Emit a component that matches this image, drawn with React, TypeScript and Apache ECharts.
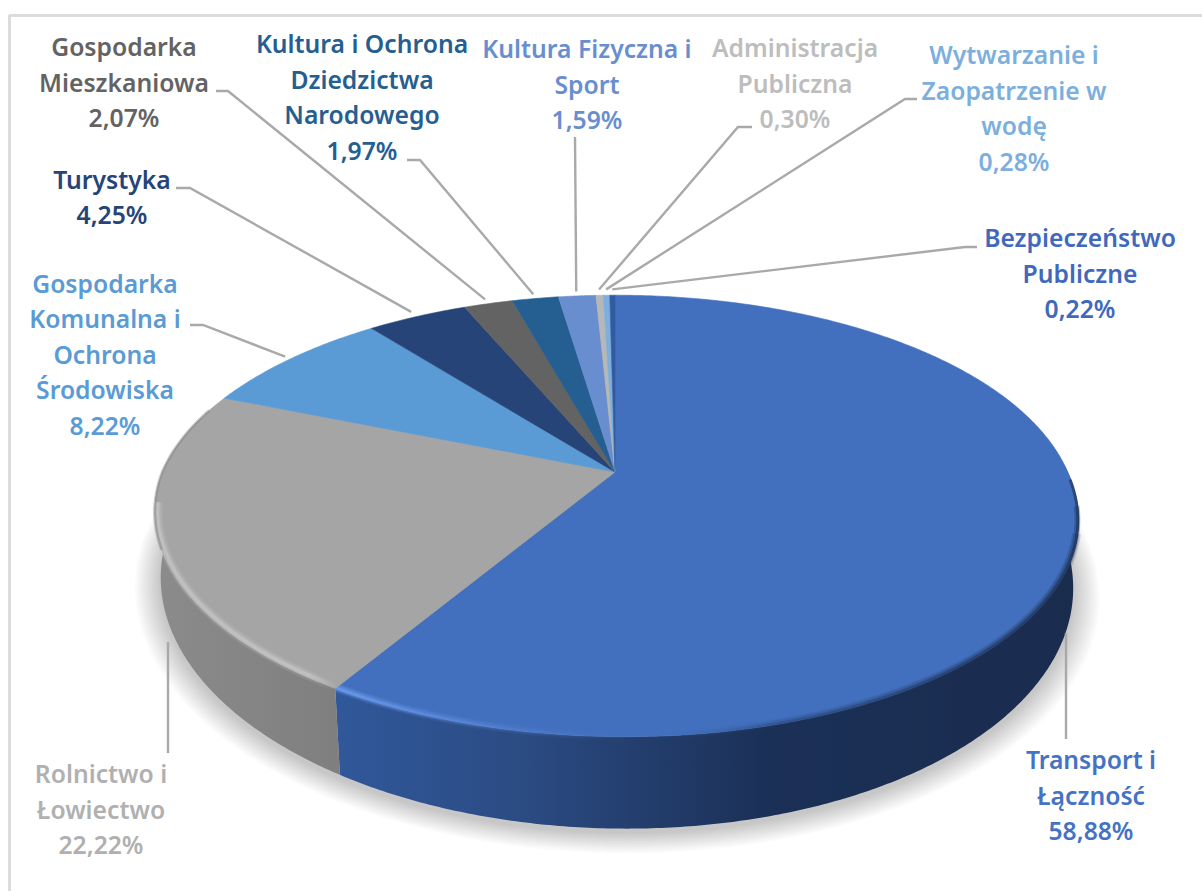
import React, { useEffect, useRef } from "react";
import * as echarts from "echarts";

// --- data, clockwise from 12 o'clock ---
const sliceNames = [
  "Transport i\nŁączność",
  "Rolnictwo i\nŁowiectwo",
  "Gospodarka\nKomunalna i\nOchrona\nŚrodowiska",
  "Turystyka",
  "Gospodarka\nMieszkaniowa",
  "Kultura i Ochrona\nDziedzictwa\nNarodowego",
  "Kultura Fizyczna i\nSport",
  "Administracja\nPubliczna",
  "Wytwarzanie i\nZaopatrzenie w\nwodę",
  "Bezpieczeństwo\nPubliczne",
];
const sliceValues = [58.88, 22.22, 8.22, 4.25, 2.07, 1.97, 1.59, 0.3, 0.28, 0.22];
const sliceColors = ["#4270be", "#a5a5a5", "#5b9bd5", "#264478", "#636363", "#255e91", "#698ed0", "#b7b7b7", "#7cafdd", "#335aa1"];
const labelColors = ["#4472c4", "#b0b0b0", "#5b9bd5", "#264478", "#636363", "#255e91", "#698ed0", "#bdbdbd", "#7cafdd", "#4069bd"];

// --- layout ---
const labelCenterX = [1091, 101, 105, 112, 124, 362, 587, 795, 1014, 1080];
const labelCenterY = [795, 809, 354, 197, 82, 97, 84, 83, 108, 273];
const leaderElbows = [
  [[1066, 739], [1066, 633]],
  [[168, 753], [168, 642]],
  [[190, 325], [203, 325]],
  [[176, 188], [190, 188]],
  [[216, 91], [228, 91]],
  [[407, 160], [420, 160]],
  [[575, 137], [575, 137]],
  [[752, 127], [738, 127]],
  [[917, 99], [905, 99]],
  [[977, 247], [965, 247]],
];
const leaderReach = [0, 0, 1.02, 1.035, 1.03, 1.03, 1.03, 1.04, 1.04, 1.04];

const START_DEG = 0;
const PERSPECTIVE = 0.199;
const SHEAR = 0.04;
const TOP = { cx: 615, cy: 472, a: 452.7, b: 212 };
const BOTTOM = { cx: 615, cy: 534, a: 447, b: 236 };

const total = sliceValues.reduce((s, v) => s + v, 0);
const toRad = (d: number) => (d * Math.PI) / 180;
const bounds = (i: number) => {
  const before = sliceValues.slice(0, i).reduce((s, v) => s + v, 0);
  return [START_DEG + (before / total) * 360, START_DEG + ((before + sliceValues[i]) / total) * 360];
};
const project = (disc: typeof TOP, deg: number, r = 1): [number, number] => {
  const s = Math.sin(toRad(deg)) * r;
  const c = Math.cos(toRad(deg)) * r;
  const d = 1 + PERSPECTIVE * c;
  const dy = -(disc.b * c) / d;
  return [disc.cx + (disc.a * s) / d + SHEAR * Math.max(0, dy), disc.cy + dy];
};
const arc = (disc: typeof TOP, from: number, to: number, r = 1) => {
  const n = Math.max(2, Math.ceil(Math.abs(to - from) * 2));
  const pts: [number, number][] = [];
  for (let k = 0; k <= n; k++) pts.push(project(disc, from + ((to - from) * k) / n, r));
  return pts;
};
const grad = (stops: [number, string][]) =>
  new echarts.graphic.LinearGradient(0, 0, 1, 0, stops.map(([offset, color]) => ({ offset, color })));

const renderShadow = (params: any) => {
  if (params.dataIndex !== 0) return { type: "group", children: [] };
  const children: any[] = [];
  const disc = { ...BOTTOM, cy: BOTTOM.cy + 4 };
  for (let k = 0; k < 14; k++) {
    children.push({
      type: "polygon",
      shape: { points: arc(disc, 0, 360, 1.055 - k * 0.004) },
      style: { fill: "rgba(0,0,0,0.014)" },
      silent: true,
    });
  }
  return { type: "group", children };
};

const renderWall = (params: any) => {
  const i = params.dataIndex;
  if (i > 1) return { type: "group", children: [] };
  const [from, to] = bounds(i);
  const f = i === 0 ? Math.max(from, 88) : from;
  const t = i === 1 ? Math.min(to, 285) : to;
  const fill =
    i === 0
      ? grad([
          [0, "#31589a"],
          [0.25, "#2b4b83"],
          [0.58, "#1b3057"],
          [1, "#1a2c4e"],
        ])
      : grad([
          [0, "#8b8b8b"],
          [1, "#7f7f7f"],
        ]);
  return {
    type: "polygon",
    shape: { points: [...arc(TOP, f, t), ...arc(BOTTOM, t, f)] },
    style: { fill, stroke: "none" },
    silent: true,
  };
};

const strokeLayer = (points: [number, number][], lineWidth: number, stroke: any) => ({
  type: "polyline",
  shape: { points },
  style: { fill: "none", lineWidth, stroke },
  silent: true,
});

const blueEdge = (light: number, dark: number) =>
  grad([
    [0, `rgba(112,160,244,${light})`],
    [0.22, `rgba(96,142,226,${light * 0.45})`],
    [0.42, "rgba(66,112,190,0)"],
    [0.6, `rgba(28,50,92,${dark * 0.5})`],
    [1, `rgba(26,44,78,${dark})`],
  ]);
const grayEdge = (alpha: number) =>
  grad([
    [0, `rgba(205,205,205,${alpha})`],
    [0.85, `rgba(205,205,205,${alpha})`],
    [1, "rgba(205,205,205,0)"],
  ]);

const renderTop = (params: any) => {
  const i = params.dataIndex;
  const [from, to] = bounds(i);
  const color = sliceColors[i];
  const children: any[] = [
    {
      type: "polygon",
      shape: { points: [[TOP.cx, TOP.cy], ...arc(TOP, from, to)] },
      style: { fill: color, stroke: color, lineWidth: 0.6 },
      silent: true,
    },
  ];
  if (i === 0) {
    children.push(
      strokeLayer(arc(TOP, 106, to, 0.997), 9, blueEdge(0.2, 0.18)),
      strokeLayer(arc(TOP, 99, to, 0.997), 6, blueEdge(0.35, 0.3)),
      strokeLayer(arc(TOP, 92, to, 0.998), 3, blueEdge(0.6, 0.6))
    );
  }
  if (i === 1) {
    const edge = arc(TOP, from, 262, 0.994);
    children.push(
      strokeLayer(edge, 10, grayEdge(0.16)),
      strokeLayer(edge, 6, grayEdge(0.28)),
      strokeLayer(edge, 3, grayEdge(0.45)),
      strokeLayer(arc(TOP, 250, 288, 1), 3, "rgba(128,128,128,0.4)")
    );
  }
  return { type: "group", children };
};

const renderLabel = (params: any, api: any) => {
  const i = params.dataIndex;
  const [from, to] = bounds(i);
  const value = api.value(0) as number;
  const elbow = leaderElbows[i];
  const end = leaderReach[i] ? project(TOP, (from + to) / 2, leaderReach[i]) : null;
  const points = end ? [...elbow, end] : elbow;
  return {
    type: "group",
    children: [
      {
        type: "polyline",
        shape: { points },
        style: { fill: "none", stroke: "#a9a9a9", lineWidth: 2.4 },
        silent: true,
      },
      {
        type: "text",
        silent: true,
        style: {
          x: labelCenterX[i],
          y: labelCenterY[i],
          text: `${sliceNames[i]}\n${value.toFixed(2).replace(".", ",")}%`,
          align: "center",
          verticalAlign: "middle",
          fill: labelColors[i],
          fontFamily: "'Noto Sans', sans-serif",
          fontWeight: 600,
          fontSize: 24.7,
          lineHeight: 35.5,
        },
      },
    ],
  };
};

export default function App() {
  const ref = useRef<HTMLDivElement>(null);
  useEffect(() => {
    const chart = echarts.init(ref.current!, undefined, { renderer: "svg" });
    const layer = (name: string, renderItem: any, z: number) => ({
      type: "custom",
      name,
      coordinateSystem: "none",
      data: sliceValues,
      renderItem,
      silent: true,
      z,
    });
    chart.setOption({
      animation: false,
      backgroundColor: "#ffffff",
      graphic: [
        { type: "line", silent: true, shape: { x1: 9, y1: 15.5, x2: 1202, y2: 15.5 }, style: { stroke: "#dcdcdc", lineWidth: 3 } },
        { type: "line", silent: true, shape: { x1: 9.5, y1: 15, x2: 9.5, y2: 891 }, style: { stroke: "#dcdcdc", lineWidth: 3 } },
      ],
      series: [
        layer("shadow", renderShadow, 1),
        layer("walls", renderWall, 2),
        layer("tops", renderTop, 3),
        layer("labels", renderLabel, 4),
      ],
    });
    return () => chart.dispose();
  }, []);
  return <div ref={ref} style={{ position: "absolute", left: 0, top: 0, width: 1202, height: 891 }} />;
}
